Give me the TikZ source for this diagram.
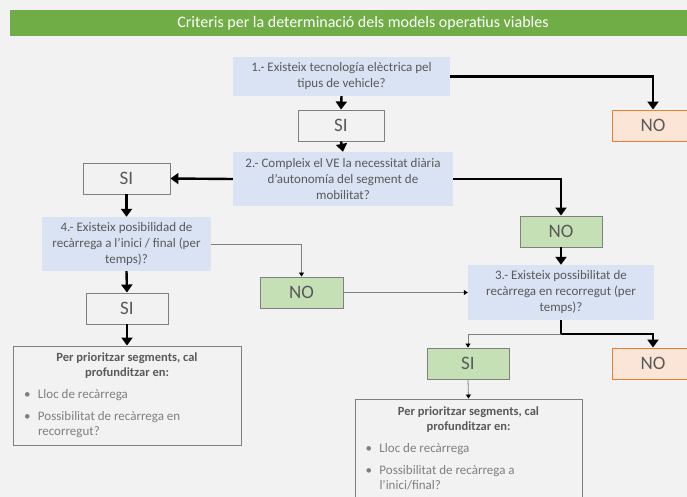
\documentclass[tikz,border=0pt]{standalone}
\usepackage{fontspec}
\setmainfont{Carlito}
\usetikzlibrary{arrows.meta}

\definecolor{bggray}{HTML}{F2F2F2}
\definecolor{titlegreen}{HTML}{70AD47}
\definecolor{askblue}{HTML}{DAE3F3}
\definecolor{textgray}{HTML}{595959}
\definecolor{bulletgray}{HTML}{7F7F7F}
\definecolor{edgegray}{HTML}{7F7F7F}
\definecolor{yesgreen}{HTML}{C5E0B4}
\definecolor{nofill}{HTML}{FBE5D6}
\definecolor{noedge}{HTML}{ED7D31}

\tikzset{
  question/.style={fill=askblue, text=textgray, align=center, inner sep=0pt,
    font=\fontsize{13}{16}\selectfont},
  answer/.style={draw=edgegray, fill=bggray, text=textgray, line width=0.9pt,
    minimum width=82pt, minimum height=31pt, inner sep=0pt,
    font=\fontsize{19}{19}\selectfont},
  greenanswer/.style={answer, fill=yesgreen},
  stopanswer/.style={answer, draw=noedge, fill=nofill},
  infobox/.style={draw=edgegray, fill=bggray, line width=0.9pt,
    minimum width=228pt, minimum height=99pt, inner sep=0pt,
    font=\fontsize{13}{15}\selectfont},
  mainflow/.style={line width=2.4pt, -{Triangle[width=11pt,length=8pt]}},
  sideflow/.style={draw=edgegray, line width=0.8pt,
    -{Triangle[width=5pt,length=4pt,color=black]}}
}

\begin{document}
\begin{tikzpicture}[x=1pt, y=-1pt]
  \useasboundingbox [fill=bggray] (0, 0) rectangle (687, 497);

  % title bar
  \node [fill=titlegreen, text=white, minimum width=706pt, minimum height=26pt,
         inner sep=0pt, font=\fontsize{16}{16}\selectfont] (title) at (363, 23)
        {Criteris per la determinació dels models operatius viables};

  % questions
  \node [question, minimum width=217pt, minimum height=39pt] (ask1) at (341.5, 76.5)
        {1.- Existeix tecnología elèctrica pel\\tipus de vehicle?};
  \node [question, minimum width=220pt, minimum height=54pt] (ask2) at (343, 179)
        {2.- Compleix el VE la necessitat diària\\d’autonomía del segment de\\mobilitat?};
  \node [question, minimum width=186pt, minimum height=55pt] (ask3) at (561, 292.5)
        {3.- Existeix possibilitat de\\recàrrega en recorregut (per\\temps)?};
  \node [question, minimum width=169pt, minimum height=54pt] (ask4) at (126.5, 244)
        {4.- Existeix posibilidad de\\recàrrega a l’inici / final (per\\temps)?};

  % answers
  \node [answer, minimum width=86pt] (yes1) at (341, 125.5) {SI};
  \node [stopanswer] (no1) at (653, 125.5) {NO};
  \node [answer, minimum width=87pt] (yes2) at (126.5, 178.5) {SI};
  \node [greenanswer] (no2) at (561, 231.5) {NO};
  \node [greenanswer, minimum width=83pt] (no3) at (301.5, 292.5) {NO};
  \node [answer] (yes3) at (127, 308.5) {SI};
  \node [greenanswer] (yes4) at (468, 363.5) {SI};
  \node [stopanswer] (no4) at (653, 363.5) {NO};

  % what to look at next
  \node [infobox] (info1) at (127, 395.5) {%
    \begin{minipage}{212pt}
      \centering\color{textgray}\fontsize{12.5}{15}\selectfont\bfseries
      Per prioritzar segments, cal\\profunditzar en:\par
      \vspace{7pt}\raggedright\fontsize{13}{15}\selectfont\mdseries\color{bulletgray}
      \hangindent=17pt\hangafter=1\makebox[17pt][l]{\hspace{3pt}\textbullet}Lloc de recàrrega\par
      \vspace{7pt}
      \hangindent=17pt\hangafter=1\makebox[17pt][l]{\hspace{3pt}\textbullet}Possibilitat de recàrrega en\newline recorregut?\par
    \end{minipage}};
  \node [infobox, minimum width=227pt] (info2) at (468.5, 448.5) {%
    \begin{minipage}{212pt}
      \centering\color{textgray}\fontsize{12.5}{15}\selectfont\bfseries
      Per prioritzar segments, cal\\profunditzar en:\par
      \vspace{7pt}\raggedright\fontsize{13}{15}\selectfont\mdseries\color{bulletgray}
      \hangindent=17pt\hangafter=1\makebox[17pt][l]{\hspace{3pt}\textbullet}Lloc de recàrrega\par
      \vspace{7pt}
      \hangindent=17pt\hangafter=1\makebox[17pt][l]{\hspace{3pt}\textbullet}Possibilitat de recàrrega a\newline l’inici/final?\par
    \end{minipage}};

  \coordinate (split3) at (561, 334);

  % thick flow
  \draw [mainflow] (ask1.east) -| (no1.north);
  \draw [mainflow] (ask1.south) -- (yes1.north);
  \draw [mainflow] (yes1.south) -- (ask2.north);
  \draw [mainflow] (ask2.west) -- (yes2.east);
  \draw [mainflow] (ask2.east) -| (no2.north);
  \draw [mainflow] (no2.south) -- (ask3.north);
  \draw [mainflow] (yes2.south) -- (ask4.north);
  \draw [mainflow] (ask4.south) -- (yes3.north);
  \draw [mainflow] (yes3.south) -- (info1.north);
  \draw [mainflow] (ask3.south) -- (split3) -| (no4.north);

  % thin flow
  \draw [sideflow] (ask4.east) -| (no3.north);
  \draw [sideflow] (no3.east) -- (ask3.west);
  \draw [sideflow] (split3) -| (yes4.north);
  \draw [sideflow] (yes4.south) -- (info2.north);
\end{tikzpicture}
\end{document}
